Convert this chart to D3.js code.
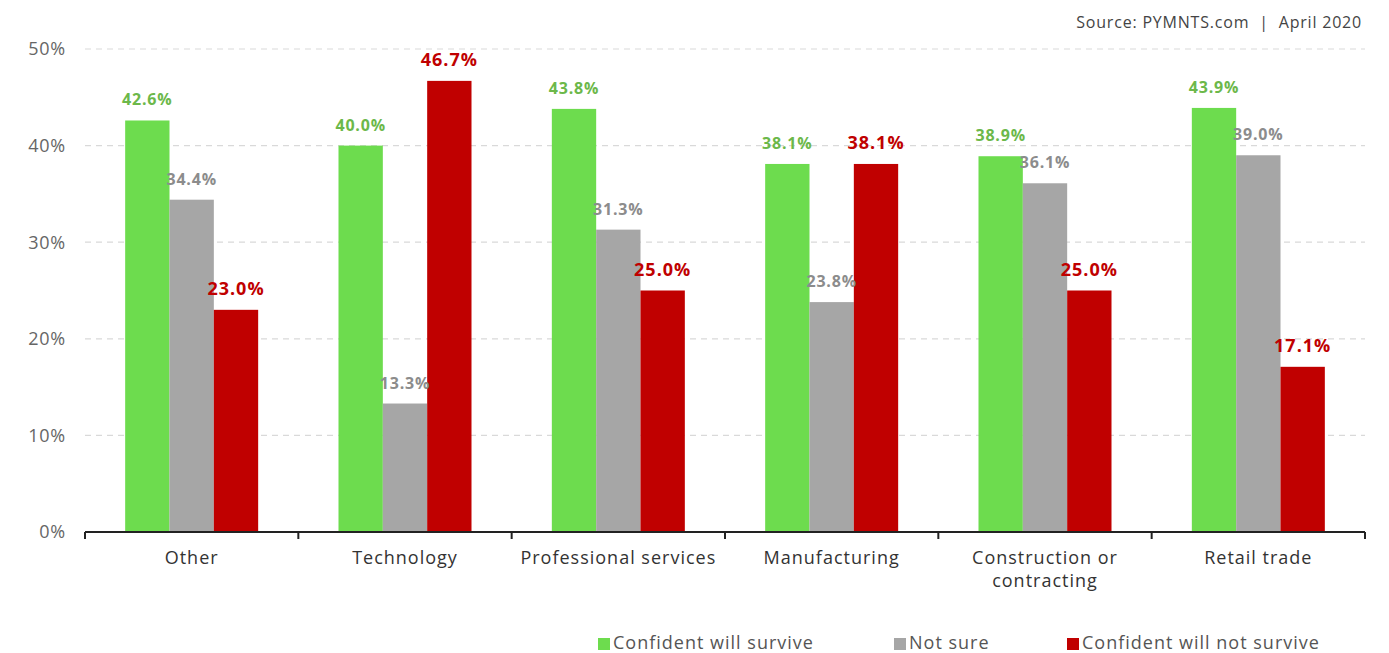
<!DOCTYPE html>
<html><head><meta charset="utf-8">
<script src="https://cdn.jsdelivr.net/npm/d3@7"></script>
<style>body{margin:0;background:#fff;} svg{display:block;}</style>
</head><body>
<svg id="c" width="1389" height="653"></svg>
<script>
const categories = ["Other","Technology","Professional services","Manufacturing","Construction or contracting","Retail trade"];
const seriesNames = ["Confident will survive","Not sure","Confident will not survive"];
const survive = [42.6, 40.0, 43.8, 38.1, 38.9, 43.9];
const notSure = [34.4, 13.3, 31.3, 23.8, 36.1, 39.0];
const notSurvive = [23.0, 46.7, 25.0, 38.1, 25.0, 17.1];
const yTicks = [0,10,20,30,40,50];

(function(){
const colors = ["#6ddc4e","#a6a6a6","#c00000"];
const labelColors = ["#6cb84a","#8c8c8c","#c00000"];
const labelSizes = [16,16,18];
const labelSpacing = [0.8,0.8,1];
const series = [survive, notSure, notSurvive];
const font = "'Open Sans', 'DejaVu Sans', sans-serif";

const svg = d3.select("#c");
const pLeft = 85, pRight = 1365, pTop = 49, pBottom = 532;
const x = d3.scaleBand().domain(categories).range([pLeft, pRight]).padding(0);
const groupW = 133;
const xs = d3.scaleBand().domain(d3.range(3)).range([0, groupW]).padding(0);
const y = d3.scaleLinear().domain([0,50]).range([pBottom, pTop]);

// gridlines
svg.append("g").selectAll("line").data(yTicks.filter(d=>d>0)).join("line")
  .attr("x1", pLeft).attr("x2", pRight)
  .attr("y1", d=>y(d)).attr("y2", d=>y(d))
  .attr("stroke", "#d9d9d9").attr("stroke-width", 1.2).attr("stroke-dasharray", "6,5");

// y labels
svg.append("g").selectAll("text").data(yTicks).join("text")
  .attr("x", 66).attr("y", d=>y(d)).attr("dy", "0.35em")
  .attr("text-anchor", "end").attr("font-family", font).attr("font-size", 18)
  .attr("letter-spacing", 0.8)
  .attr("fill", "#666").text(d=>d+"%");

// bars
const g = svg.append("g");
categories.forEach((c, i) => {
  const gx = x(c) + (x.bandwidth() - groupW) / 2;
  series.forEach((s, k) => {
    const v = s[i];
    g.append("rect")
      .attr("x", gx + xs(k)).attr("width", xs.bandwidth())
      .attr("y", y(v)).attr("height", y(0) - y(v))
      .attr("fill", colors[k]);
  });
});
// labels
categories.forEach((c, i) => {
  const gx = x(c) + (x.bandwidth() - groupW) / 2;
  series.forEach((s, k) => {
    const v = s[i];
    g.append("text")
      .attr("x", gx + xs(k) + xs.bandwidth()/2).attr("y", y(v) - 15)
      .attr("text-anchor", "middle").attr("font-family", font)
      .attr("font-weight", "bold").attr("font-size", labelSizes[k])
      .attr("letter-spacing", labelSpacing[k])
      .attr("fill", labelColors[k]).text(v.toFixed(1) + "%");
  });
});

// x axis
const ax = svg.append("g");
ax.append("line").attr("x1", pLeft).attr("x2", pRight).attr("y1", pBottom).attr("y2", pBottom)
  .attr("stroke", "#222").attr("stroke-width", 2);
const bounds = categories.map(c => x(c)).concat([pRight]);
ax.selectAll("line.t").data(bounds).join("line").attr("class","t")
  .attr("x1", d=>d).attr("x2", d=>d).attr("y1", pBottom).attr("y2", pBottom+7)
  .attr("stroke", "#222").attr("stroke-width", 2);

const catLines = {"Construction or contracting": ["Construction or","contracting"]};
categories.forEach(c => {
  const lines = catLines[c] || [c];
  const t = ax.append("text").attr("text-anchor","middle").attr("font-family", font)
    .attr("font-size", 18).attr("letter-spacing", 1).attr("fill", "#333");
  lines.forEach((l, j) => {
    t.append("tspan").attr("x", x(c) + x.bandwidth()/2).attr("y", 564 + j*23).text(l);
  });
});

// source
svg.append("text").attr("x", 1362).attr("y", 28).attr("text-anchor","end")
  .attr("font-family", font).attr("font-size", 16).attr("fill", "#444")
  .attr("letter-spacing", 0.8)
  .attr("xml:space","preserve").style("white-space","pre")
  .text("Source: PYMNTS.com  |  April 2020");

// legend
const legendX = [598, 894, 1067];
seriesNames.forEach((n, k) => {
  svg.append("rect").attr("x", legendX[k]).attr("y", 638).attr("width", 12).attr("height", 12).attr("fill", colors[k]);
  svg.append("text").attr("x", legendX[k] + 15).attr("y", 643).attr("dy", "0.35em")
    .attr("font-family", font).attr("font-size", 18).attr("letter-spacing", 1)
    .attr("fill", "#555").text(n);
});
})();
</script>
</body></html>
